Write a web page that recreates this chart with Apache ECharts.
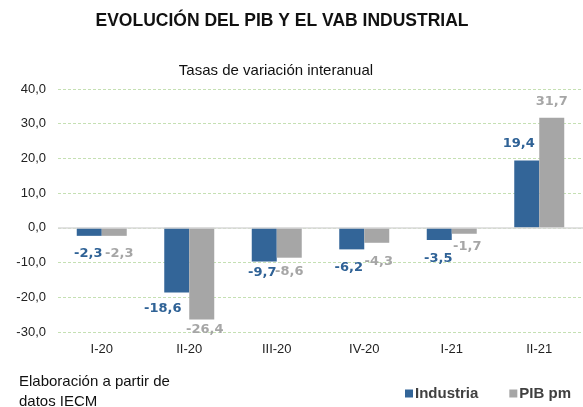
<!DOCTYPE html>
<html>
<head>
<meta charset="utf-8">
<script src="https://cdn.jsdelivr.net/npm/echarts@6/dist/echarts.min.js"></script>
<style>
    html, body { margin: 0; padding: 0; background: #fff; }
    #pibvab { width: 583px; height: 407px; }
</style>
</head>
<body>
<div id="pibvab"></div>
<script>
var categories = ['I-20', 'II-20', 'III-20', 'IV-20', 'I-21', 'II-21'];
var industriaData = [-2.3, -18.6, -9.7, -6.2, -3.5, 19.4];
var pibData = [-2.3, -26.4, -8.6, -4.3, -1.7, 31.7];
var yTicks = [-30, -20, -10, 0, 10, 20, 30, 40];

// desplazamientos manuales de las etiquetas [dx, dy hacia fuera de la barra]
var industriaNudge = [[-1, 1], [-14, 0], [-2, -5], [-3, 2], [-1, 2], [-8, 0]];
var pibNudge = [[5, 1], [3, -6], [0, -3], [2, 2], [3, -4], [0, 0]];

var blue = '#336598';
var grey = '#A6A6A6';

function fmtComma(v) {
    return Number(v).toFixed(1).replace('.', ',');
}

function buildBarData(values, nudges) {
    var arr = [];
    for (var i = 0; i < values.length; i++) {
        var dir = values[i] < 0 ? 1 : -1;
        arr.push({
            value: values[i],
            label: {
                offset: [nudges[i][0], dir * nudges[i][1]]
            }
        });
    }
    return arr;
}

function barLabelStyle(color) {
    return {
        show: true,
        position: 'outside',
        distance: 10,
        color: color,
        fontFamily: 'DejaVu Sans',
        fontWeight: 'bold',
        fontSize: 13,
        formatter: function (p) { return fmtComma(p.value); }
    };
}

var option = {
    animation: false,
    title: [
        {
            text: 'EVOLUCIÓN DEL PIB Y EL VAB INDUSTRIAL',
            left: 282, top: 12, textAlign: 'center', padding: 0,
            textStyle: { fontFamily: 'Liberation Sans', fontSize: 17.5, fontWeight: 'bold', color: '#111' }
        },
        {
            text: 'Tasas de variación interanual',
            left: 276, top: 63, textAlign: 'center', padding: 0,
            textStyle: { fontFamily: 'Liberation Sans', fontSize: 15, fontWeight: 'normal', color: '#111' }
        },
        {
            text: 'Elaboración a partir de\ndatos IECM',
            left: 19, top: 372, padding: 0,
            textStyle: { fontFamily: 'Liberation Sans', fontSize: 15, fontWeight: 'normal', color: '#111', lineHeight: 20 }
        }
    ],
    legend: {
        data: ['Industria', 'PIB pm'],
        right: 7,
        top: 381,
        icon: 'rect',
        itemWidth: 8,
        itemHeight: 8,
        itemGap: 31,
        textStyle: { fontFamily: 'Liberation Sans', fontSize: 15, fontWeight: 'bold', color: '#404040', padding: [0, 0, 0, -3] }
    },
    grid: { left: 58, right: -3, top: 89, bottom: 75 },
    xAxis: {
        type: 'category',
        data: categories,
        axisLine: { show: false, onZero: false },
        axisTick: { show: false },
        axisLabel: { margin: 11, fontFamily: 'Liberation Sans', fontSize: 13, color: '#222' }
    },
    yAxis: {
        type: 'value',
        min: yTicks[0],
        max: yTicks[yTicks.length - 1],
        interval: 10,
        axisLine: { show: false },
        axisTick: { show: false },
        axisLabel: {
            margin: 12,
            fontFamily: 'Liberation Sans',
            fontSize: 13,
            color: '#222',
            formatter: fmtComma
        },
        splitLine: { lineStyle: { color: '#C5E0B3', type: [3, 2], width: 1 } }
    },
    series: [
        {
            name: 'Industria',
            type: 'bar',
            barWidth: 25,
            barGap: '0%',
            itemStyle: { color: blue },
            label: barLabelStyle('#2F6296'),
            data: buildBarData(industriaData, industriaNudge),
            markLine: {
                silent: true,
                symbol: 'none',
                label: { show: false },
                lineStyle: { color: '#D9D9D9', type: 'solid', width: 1.5 },
                data: [{ yAxis: 0 }]
            }
        },
        {
            name: 'PIB pm',
            type: 'bar',
            barWidth: 25,
            barGap: '0%',
            itemStyle: { color: grey },
            label: barLabelStyle(grey),
            data: buildBarData(pibData, pibNudge)
        }
    ]
};

var chart = echarts.init(document.getElementById('pibvab'), null, { renderer: 'canvas' });
chart.setOption(option, true);
</script>
</body>
</html>
